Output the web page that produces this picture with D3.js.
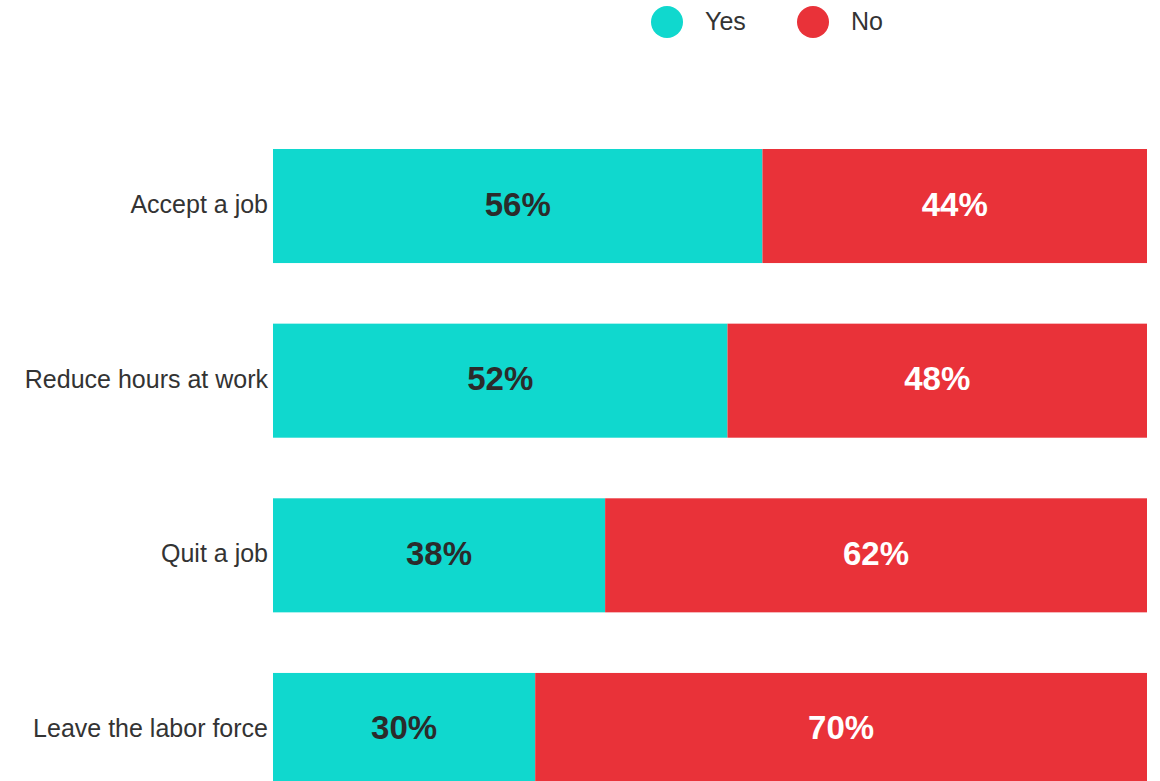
<!DOCTYPE html>
<html><head><meta charset="utf-8">
<script src="https://cdn.jsdelivr.net/npm/d3@7"></script>
<style>html,body{margin:0;padding:0;background:#fff;overflow:hidden}svg{display:block}</style>
</head><body>
<svg id="chart" width="1160" height="781"></svg>
<script>
const categories = ["Accept a job", "Reduce hours at work", "Quit a job", "Leave the labor force"];
const seriesNames = ["Yes", "No"];
const yesValues = [56, 52, 38, 30];
const noValues = [44, 48, 62, 70];
const colors = ["#10d8ce", "#e93239"];
const labelColors = ["#2b2b2b", "#ffffff"];

const svg = d3.select("#chart");
const font = "'Liberation Sans', Arial, sans-serif";

const x = d3.scaleLinear().domain([0, 100]).range([273, 1147]);
const y = d3.scaleBand().domain(categories).range([149, 787]).paddingInner(0.347).paddingOuter(0);

const rows = categories.map((c, i) => ({cat: c, vals: [yesValues[i], noValues[i]]}));
const stack = d3.stack().keys([0, 1]).value((d, k) => d.vals[k]);
const layers = stack(rows);

const bh = y.bandwidth();
const g = svg.append("g");
layers.forEach((layer, k) => {
  const lg = g.append("g");
  lg.selectAll("rect").data(layer).enter().append("rect")
    .attr("x", d => x(d[0]))
    .attr("y", d => y(d.data.cat))
    .attr("width", d => x(d[1]) - x(d[0]))
    .attr("height", bh)
    .attr("fill", colors[k]);
  lg.selectAll("text").data(layer).enter().append("text")
    .attr("x", d => (x(d[0]) + x(d[1])) / 2)
    .attr("y", d => y(d.data.cat) + bh / 2 - 2)
    .attr("text-anchor", "middle")
    .attr("dominant-baseline", "central")
    .attr("font-family", font)
    .attr("font-weight", "bold")
    .attr("font-size", 33)
    .attr("fill", labelColors[k])
    .text(d => (d[1] - d[0]) + "%");
});

// category labels
svg.append("g").selectAll("text").data(categories).enter().append("text")
  .attr("x", 268)
  .attr("y", d => y(d) + bh / 2 - 2)
  .attr("text-anchor", "end")
  .attr("dominant-baseline", "central")
  .attr("font-family", font)
  .attr("font-size", 25)
  .attr("fill", "#333")
  .text(d => d);

// legend
const legendX = [667, 813];
const lg = svg.append("g");
seriesNames.forEach((n, i) => {
  lg.append("circle").attr("cx", legendX[i]).attr("cy", 22).attr("r", 16).attr("fill", colors[i]);
  lg.append("text").attr("x", legendX[i] + 38).attr("y", 21)
    .attr("dominant-baseline", "central")
    .attr("font-family", font).attr("font-size", 25).attr("fill", "#333").text(n);
});
</script>
</body></html>
